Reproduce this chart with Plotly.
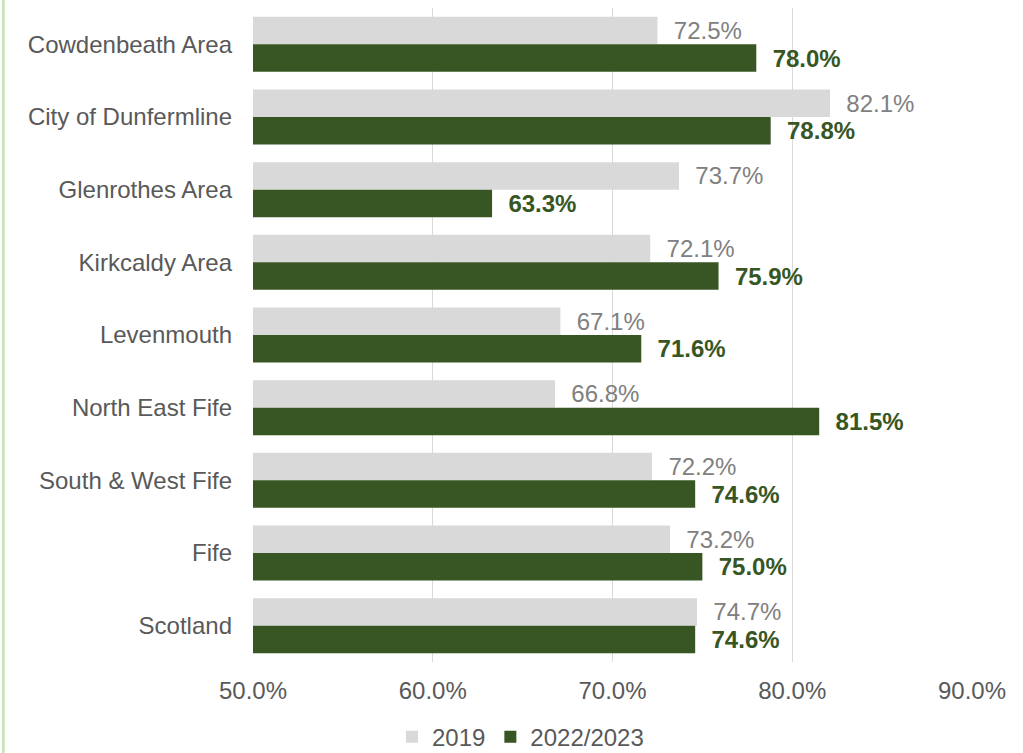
import plotly.graph_objects as go

categories = ["Cowdenbeath Area", "City of Dunfermline", "Glenrothes Area", "Kirkcaldy Area",
              "Levenmouth", "North East Fife", "South & West Fife", "Fife", "Scotland"]
v2019 = [72.5, 82.1, 73.7, 72.1, 67.1, 66.8, 72.2, 73.2, 74.7]
v2022 = [78.0, 78.8, 63.3, 75.9, 71.6, 81.5, 74.6, 75.0, 74.6]
tick_vals = [50, 60, 70, 80, 90]
tick_text = ["50.0%", "60.0%", "70.0%", "80.0%", "90.0%"]

FONT = "Liberation Sans, Arial, sans-serif"
PAD = "\u00a0\u00a0"

fig = go.Figure()
fig.add_trace(go.Bar(
    y=categories, x=v2019, orientation="h", name="2019",
    marker=dict(color="#d9d9d9", line=dict(width=0)),
    text=[PAD + f"{v:.1f}%" for v in v2019], textposition="outside",
    textfont=dict(family=FONT, size=24, color="#808080"),
    constraintext="none", cliponaxis=False, hoverinfo="x+y",
))
fig.add_trace(go.Bar(
    y=categories, x=v2022, orientation="h", name="2022/2023",
    marker=dict(color="#375623", line=dict(width=0)),
    text=[PAD + f"{v:.1f}%" for v in v2022], textposition="outside",
    textfont=dict(family=FONT, size=24, color="#375623", weight="bold"),
    constraintext="none", cliponaxis=False, hoverinfo="x+y",
))

fig.update_layout(
    width=1023, height=753,
    margin=dict(l=252.5, r=50.5, t=8, b=91, autoexpand=False),
    paper_bgcolor="white", plot_bgcolor="white",
    barmode="group", bargap=0.243, bargroupgap=0,
    font=dict(family=FONT, size=24, color="#595959"),
    showlegend=True,
    legend=dict(orientation="h", x=0.372, xanchor="center", y=-0.115, yanchor="middle",
                font=dict(family=FONT, size=24, color="#595959"),
                bgcolor="rgba(0,0,0,0)", itemwidth=30),
    xaxis=dict(range=[50, 90], tickvals=tick_vals, ticktext=tick_text,
               showgrid=True, gridcolor="#d9d9d9", gridwidth=1.3,
               zeroline=False, showline=False, ticks="", ticklabelstandoff=12,
               tickfont=dict(family=FONT, size=24, color="#595959"), fixedrange=True),
    yaxis=dict(autorange="reversed", showgrid=False, zeroline=False, showline=False,
               ticks="", ticklabelstandoff=20,
               tickfont=dict(family=FONT, size=24, color="#595959"), fixedrange=True),
    shapes=[dict(type="line", xref="paper", yref="paper",
                 x0=(2.5 - 252.5) / 720, x1=(2.5 - 252.5) / 720,
                 y0=-91 / 654 - 0.01, y1=1 + 8 / 654 + 0.01,
                 line=dict(color="#c5e0b4", width=2.5))],
)

fig.write_html("out.html",
               config={"displayModeBar": False},
               post_script="document.body.style.margin='0';document.body.style.overflow='hidden';")
